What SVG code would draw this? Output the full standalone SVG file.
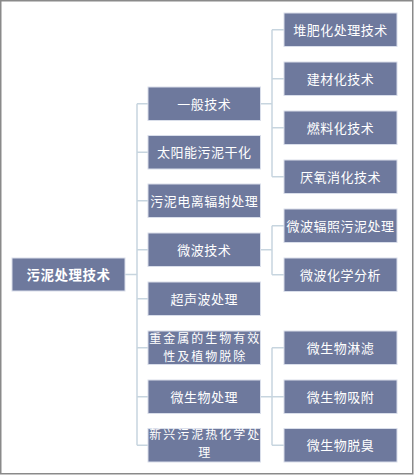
<svg xmlns="http://www.w3.org/2000/svg" width="414" height="475" viewBox="0 0 414 475">
<style>
.b{fill:#6E799D;stroke:#D9DEEA;stroke-width:1}
.t{fill:#FFFFFF;font-family:"Noto Sans CJK SC","Noto Sans",sans-serif;font-size:13px;letter-spacing:0.5px;text-anchor:middle}
.w{font-size:12px;letter-spacing:2px}
.r{font-weight:bold;font-size:13.5px}
.c{fill:none;stroke:#C7D5DF;stroke-width:1.5}
</style>
<rect x="0.75" y="0.75" width="412" height="473" fill="#FFFFFF" stroke="#8A8A8A" stroke-width="1.5"/>
<g id="connectors" class="c">
<path d="M125 274.5H137M137 103.75V445.25M137 103.75H148M137 152.25H148M137 200.75H148M137 249.75H148M137 298.75H148M137 347.75H148M137 396.75H148M137 445.25H148"/>
<path d="M260.5 103.75H272M272 29.75V176.75M272 29.75H284M272 78.75H284M272 127.75H284M272 176.75H284"/>
<path d="M260.5 249.75H272M272 225.75V274.75M272 225.75H284M272 274.75H284"/>
<path d="M260.5 396.75H272M272 347.75V445.25M272 347.75H284M272 396.75H284M272 445.25H284"/>
</g>
<g id="root"><rect class="b" x="12" y="258" width="113" height="33"/><text class="t r" x="68.5" y="279.5">污泥处理技术</text></g>
<g id="m1"><rect class="b" x="148" y="87" width="112.5" height="33.5"/><text class="t" x="204.25" y="108.6">一般技术</text></g>
<g id="m2"><rect class="b" x="148" y="135.5" width="112.5" height="33.5"/><text class="t" x="204.25" y="157.1">太阳能污泥干化</text></g>
<g id="m3"><rect class="b" x="148" y="184" width="112.5" height="33.5"/><text class="t" x="204.25" y="205.6">污泥电离辐射处理</text></g>
<g id="m4"><rect class="b" x="148" y="233" width="112.5" height="33.5"/><text class="t" x="204.25" y="254.6">微波技术</text></g>
<g id="m5"><rect class="b" x="148" y="282" width="112.5" height="33.5"/><text class="t" x="204.25" y="303.6">超声波处理</text></g>
<g id="m6"><rect class="b" x="148" y="331" width="112.5" height="33.5"/><text class="t w" x="205.25" y="342.8">重金属的生物有效</text><text class="t w" x="205.25" y="360.8">性及植物脱除</text></g>
<g id="m7"><rect class="b" x="148" y="380" width="112.5" height="33.5"/><text class="t" x="204.25" y="401.6">微生物处理</text></g>
<g id="m8"><rect class="b" x="148" y="428.5" width="112.5" height="33.5"/><text class="t w" x="205.25" y="438.6">新兴污泥热化学处</text><text class="t w" x="205.25" y="456.6">理</text></g>
<g id="r1"><rect class="b" x="284" y="13" width="113" height="33.5"/><text class="t" x="340.5" y="34.6">堆肥化处理技术</text></g>
<g id="r2"><rect class="b" x="284" y="62" width="113" height="33.5"/><text class="t" x="340.5" y="83.6">建材化技术</text></g>
<g id="r3"><rect class="b" x="284" y="111" width="113" height="33.5"/><text class="t" x="340.5" y="132.6">燃料化技术</text></g>
<g id="r4"><rect class="b" x="284" y="160" width="113" height="33.5"/><text class="t" x="340.5" y="181.6">厌氧消化技术</text></g>
<g id="r5"><rect class="b" x="284" y="209" width="113" height="33.5"/><text class="t" x="340.5" y="230.6">微波辐照污泥处理</text></g>
<g id="r6"><rect class="b" x="284" y="258" width="113" height="33.5"/><text class="t" x="340.5" y="279.6">微波化学分析</text></g>
<g id="r7"><rect class="b" x="284" y="331" width="113" height="33.5"/><text class="t" x="340.5" y="352.6">微生物淋滤</text></g>
<g id="r8"><rect class="b" x="284" y="380" width="113" height="33.5"/><text class="t" x="340.5" y="401.6">微生物吸附</text></g>
<g id="r9"><rect class="b" x="284" y="428.5" width="113" height="33.5"/><text class="t" x="340.5" y="450.1">微生物脱臭</text></g>
</svg>
